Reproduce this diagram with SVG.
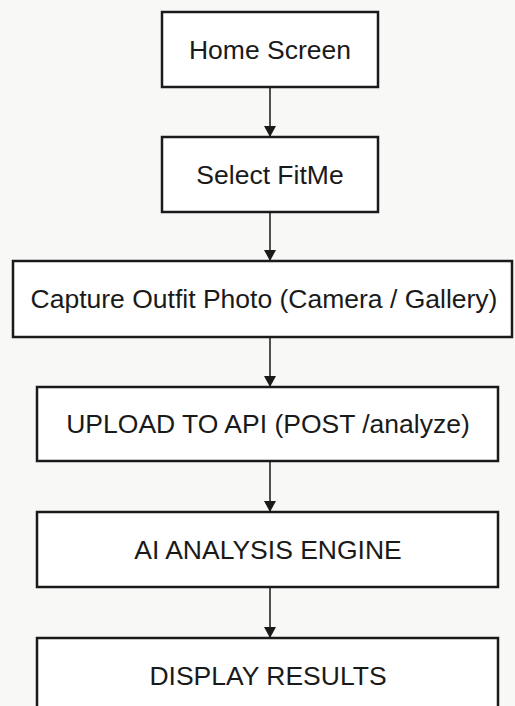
<svg xmlns="http://www.w3.org/2000/svg" width="515" height="706" viewBox="0 0 515 706">
<defs>
<style>
.box{fill:#ffffff;stroke:#1a1a1a;stroke-width:2.5}
.t{font-family:"Liberation Sans",Arial,sans-serif;font-size:26.5px;fill:#1a1a1a;text-anchor:middle;dominant-baseline:central}
.c{stroke:#1a1a1a;stroke-width:1.5;fill:none;marker-end:url(#ah)}
</style>
<marker id="ah" markerWidth="12" markerHeight="12" refX="10" refY="6" orient="auto" markerUnits="userSpaceOnUse">
<path d="M0,0 L11,6 L0,12 Z" fill="#1a1a1a"/>
</marker>
</defs>
<rect width="515" height="706" fill="#f8f8f7"/>
<g id="connectors">
<line class="c" x1="270" y1="87" x2="270" y2="136"/>
<line class="c" x1="270" y1="212" x2="270" y2="260"/>
<line class="c" x1="270" y1="337" x2="270" y2="386"/>
<line class="c" x1="270" y1="461" x2="270" y2="511"/>
<line class="c" x1="270" y1="587" x2="270" y2="637"/>
</g>
<g id="home"><rect class="box" x="162" y="12" width="216" height="75"/><text class="t" x="270" y="50">Home Screen</text></g>
<g id="select"><rect class="box" x="162" y="137" width="216" height="75"/><text class="t" x="270" y="175">Select FitMe</text></g>
<g id="capture"><rect class="box" x="13" y="261" width="499" height="76"/><text class="t" x="264" y="299">Capture Outfit Photo (Camera / Gallery)</text></g>
<g id="upload"><rect class="box" x="37" y="387" width="461" height="74"/><text class="t" x="268" y="424">UPLOAD TO API (POST /analyze)</text></g>
<g id="ai"><rect class="box" x="37" y="512" width="461" height="75"/><text class="t" x="268" y="550">AI ANALYSIS ENGINE</text></g>
<g id="display"><rect class="box" x="37" y="638" width="461" height="80"/><text class="t" x="268" y="676">DISPLAY RESULTS</text></g>
</svg>
